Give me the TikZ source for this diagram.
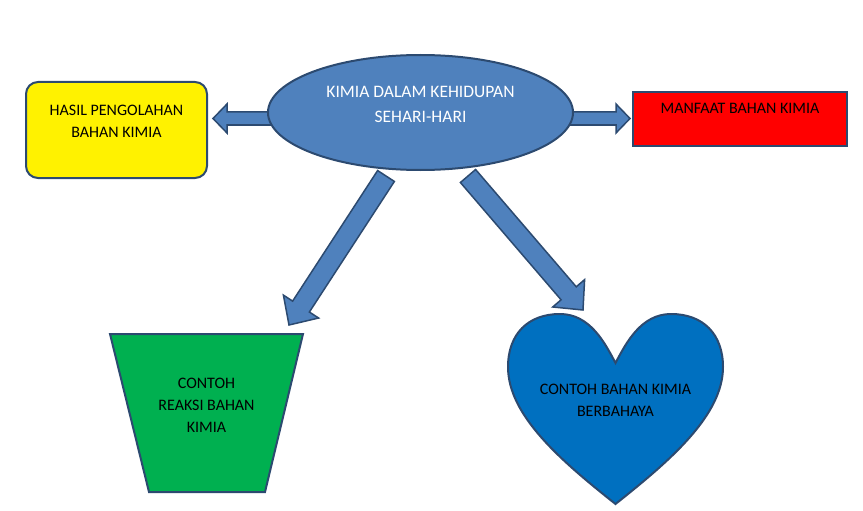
\documentclass[tikz,border=0pt]{standalone}
\usepackage{fontspec}
\setmainfont{Carlito}
\usetikzlibrary{calc,shapes.geometric}
\definecolor{biru}{HTML}{4F81BD}
\definecolor{tepi}{HTML}{2C4A70}
\definecolor{hijau}{HTML}{00B050}
\definecolor{biruhati}{HTML}{0070C0}
% block arrow: start, tip, shaft half width, head half width, head length
\newcommand{\panahblok}[5]{\draw[panah] ($(#1)!#3!90:(#2)$) -- ($(#2)!#5!(#1)!#3!-90:(#1)$) -- ($(#2)!#5!(#1)!#4!-90:(#1)$) -- (#2) -- ($(#2)!#5!(#1)!#4!90:(#1)$) -- ($(#2)!#5!(#1)!#3!90:(#1)$) -- ($(#1)!#3!-90:(#2)$) -- cycle;}
\begin{document}
\begin{tikzpicture}[x=1pt, y=-1pt, every node/.style={font=\fontsize{16}{22}\selectfont, align=center}, panah/.style={fill=biru, draw=tepi, line width=1.5pt, line join=miter}, kotak/.style={draw=tepi, line width=2pt}, tulisan/.style={font=\fontsize{17.5}{25}\selectfont, text=white}]
\useasboundingbox (0,0) rectangle (863,511);
% arrow ends
\coordinate (kiri0) at (272,118.5); \coordinate (kiri1) at (213,118.5);
\coordinate (kanan0) at (570,118.5); \coordinate (kanan1) at (630,118.5);
\coordinate (bawahkiri0) at (386,176); \coordinate (bawahkiri1) at (289,325);
\coordinate (bawahkanan0) at (468,176); \coordinate (bawahkanan1) at (583,310);
\panahblok{kiri0}{kiri1}{6.5pt}{14.5pt}{14pt} \panahblok{kanan0}{kanan1}{6.5pt}{14.5pt}{14pt}
\panahblok{bawahkiri0}{bawahkiri1}{10pt}{21pt}{22pt} \panahblok{bawahkanan0}{bawahkanan1}{10pt}{21pt}{22pt}
% centre
\node[ellipse, kotak, fill=biru, minimum width=305, minimum height=115, label={[tulisan, yshift=8]center:KIMIA DALAM KEHIDUPAN\\SEHARI-HARI}] (inti) at (420.5,112.5) {};
% boxes left and right
\node[kotak, fill=yellow, rounded corners=12, minimum width=181, minimum height=96, label={[yshift=9]center:HASIL PENGOLAHAN\\BAHAN KIMIA}] (hasil) at (116.5,130) {};
\node[kotak, fill=red, minimum width=214, minimum height=54, label={[yshift=11]center:MANFAAT BAHAN KIMIA}] (manfaat) at (740,119) {};
% bottom shapes
\draw[kotak, fill=hijau] (110,334) -- (303,334) -- (265,492) -- (149,492) -- cycle;
\node (reaksi) at (206.5,405) {CONTOH\\REAKSI BAHAN\\KIMIA};
\draw[kotak, fill=biruhati] (615.5,363) .. controls (605,343) and (590,314) .. (560,314) .. controls (528,314) and (508,334) .. (508,367) .. controls (508,415) and (560,460) .. (615.5,504) .. controls (671,460) and (723,415) .. (723,367) .. controls (723,334) and (703,314) .. (671,314) .. controls (641,314) and (626,343) .. (615.5,363) -- cycle;
\node (bahaya) at (615.5,400) {CONTOH BAHAN KIMIA\\BERBAHAYA};
\end{tikzpicture}
\end{document}
